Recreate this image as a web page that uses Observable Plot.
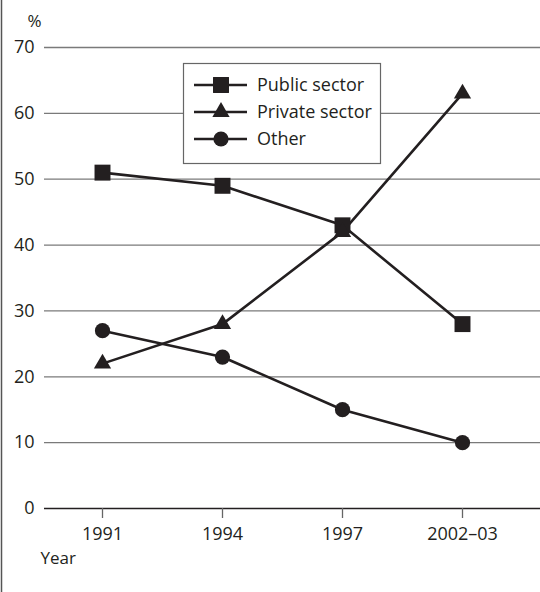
<!DOCTYPE html>
<html><head><meta charset="utf-8">
<script src="https://cdn.jsdelivr.net/npm/d3@7"></script>
<script src="https://cdn.jsdelivr.net/npm/@observablehq/plot@0.6"></script>
<style>
html,body{margin:0;padding:0;background:#fff;}
#chart{position:relative;width:540px;height:592px;}
svg{font-family:"Open Sans",sans-serif;}
</style></head>
<body><div id="chart"></div>
<script>
const years = ["1991","1994","1997","2002–03"];
const publicSector = [51,49,43,28];
const privateSector = [22,28,42,63];
const other = [27,23,15,10];
const seriesNames = ["Public sector","Private sector","Other"];
const seriesSymbols = ["square","triangle","circle"];
const seriesR = [9,6.4,7.6];
const yTicks = [0,10,20,30,40,50,60,70];

const ink = "#231f20";
const allSeries = [publicSector, privateSector, other];
const data = [];
allSeries.forEach((vals, s) => vals.forEach((v, i) => data.push({year: years[i], value: v, series: seriesNames[s], symbol: seriesSymbols[s], r: seriesR[s]})));

const W = 540, H = 592, mL = 44, mT = 47, mB = 84;
const plot = Plot.plot({
  width: W, height: H,
  marginLeft: mL, marginRight: 0, marginTop: mT, marginBottom: mB,
  style: {fontFamily: '"Open Sans", sans-serif', fontSize: "17px", color: ink, background: "#fff"},
  x: {type: "point", domain: years, range: [101, 462], padding: 0, label: null},
  y: {domain: [0, 70], label: null},
  r: {type: "identity"},
  symbol: {type: "identity"},
  marks: [
    Plot.ruleY(yTicks.filter(d => d > 0), {stroke: "#7a7a7a", strokeWidth: 1.3}),
    Plot.ruleY([0], {stroke: ink, strokeWidth: 1.5}),
    Plot.axisY(yTicks, {tickSize: 0, tickPadding: 10, label: null, fill: ink, fontSize: 18}),
    Plot.axisX({tickSize: 10, tickPadding: 9, stroke: "#666", strokeWidth: 1.3, label: null, fill: ink, fontSize: 18}),
    Plot.line(data, {x: "year", y: "value", z: "series", stroke: ink, strokeWidth: 2.6}),
    Plot.dot(data, {x: "year", y: "value", symbol: "symbol", r: "r", fill: ink, stroke: "none"}),
    Plot.text(["%"], {frameAnchor: "top-left", dx: -17, dy: -33, fontSize: 17, fill: ink}),
    Plot.text(["Year"], {frameAnchor: "bottom-left", dx: -4, dy: 55, fontSize: 17, fill: ink, textAnchor: "start"})
  ]
});
document.getElementById("chart").appendChild(plot);

// left border
const svg = d3.select(plot);
svg.append("line").attr("x1", 1.5).attr("x2", 1.5).attr("y1", 0).attr("y2", H).attr("stroke", "#555").attr("stroke-width", 1.5);

// legend
const lg = {x: 183, y: 63, w: 197, h: 100, rowY0: 85, rowGap: 27};
const g = svg.append("g").attr("text-anchor", "start");
g.append("rect").attr("x", lg.x + .5).attr("y", lg.y + .5).attr("width", lg.w).attr("height", lg.h)
  .attr("fill", "#fff").attr("stroke", "#666").attr("stroke-width", 1.2);
seriesNames.forEach((name, i) => {
  const cy = lg.rowY0 + i * lg.rowGap;
  g.append("line").attr("x1", 194).attr("x2", 247).attr("y1", cy).attr("y2", cy).attr("stroke", ink).attr("stroke-width", 2.6);
  const sym = {square: d3.symbolSquare, triangle: d3.symbolTriangle, circle: d3.symbolCircle}[seriesSymbols[i]];
  g.append("path").attr("transform", `translate(221,${cy})`).attr("d", d3.symbol(sym, Math.PI * seriesR[i] * seriesR[i])()).attr("fill", ink);
  g.append("text").attr("x", 257).attr("y", cy).attr("dy", "0.35em").attr("text-anchor", "start").attr("font-size", 18).attr("fill", ink).text(name);
});
</script></body></html>
